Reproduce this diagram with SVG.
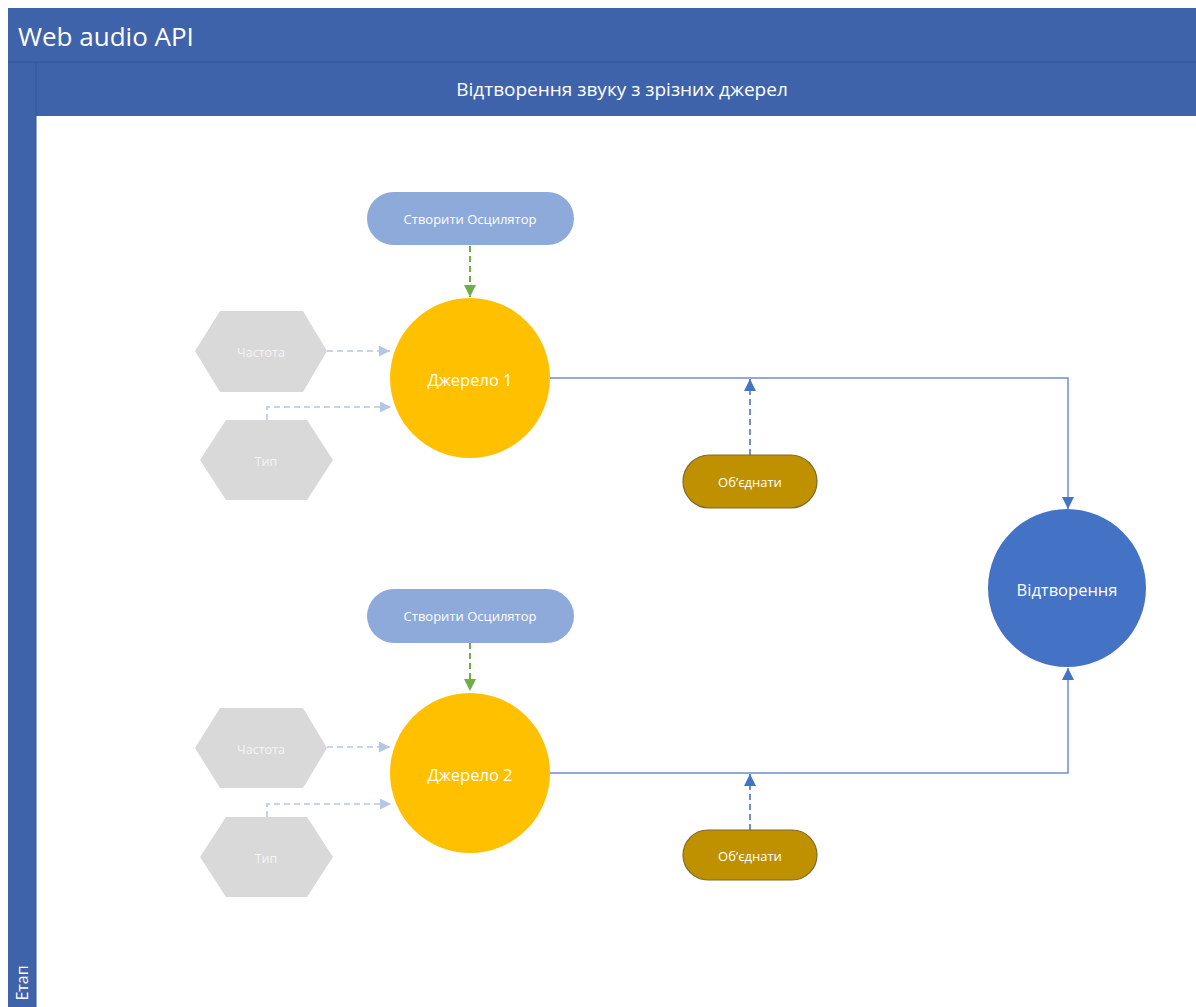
<svg xmlns="http://www.w3.org/2000/svg" width="1196" height="1007" viewBox="0 0 1196 1007">
<style>
text{font-family:"Open Sans","Liberation Sans",sans-serif;fill:#fff;text-anchor:middle;dominant-baseline:central}
.band{fill:#3f63ab}
.osc{fill:#8eaadb}
.src{fill:#ffc000}
.hex{fill:#d9d9d9}
.hexT{fill:#f4f4f4;font-size:12.5px}
.merge{fill:#bf9000;stroke:#7f6a2a;stroke-width:1.2}
.play{fill:#4472c4}
.solid{fill:none;stroke:#6f8fd0;stroke-width:1.5}
.dashB{fill:none;stroke:#6f8fd0;stroke-width:2;stroke-dasharray:6 4}
.dashL{fill:none;stroke:#b4c7e7;stroke-width:1.6;stroke-dasharray:6 4}
.dashG{fill:none;stroke:#70ad47;stroke-width:2;stroke-dasharray:6 4}
.big{font-size:16.5px}
.sm{font-size:13px}
</style>
<defs>
<marker id="aB2" viewBox="0 0 10 10" refX="10" refY="5" markerWidth="12" markerHeight="12" markerUnits="userSpaceOnUse" orient="auto"><path d="M0,0L10,5L0,10z" fill="#4472c4"/></marker>
<marker id="aL" viewBox="0 0 10 10" refX="10" refY="5" markerWidth="11" markerHeight="11" markerUnits="userSpaceOnUse" orient="auto"><path d="M0,0L10,5L0,10z" fill="#b4c7e7"/></marker>
<marker id="aG" viewBox="0 0 10 10" refX="10" refY="5" markerWidth="12" markerHeight="12" markerUnits="userSpaceOnUse" orient="auto"><path d="M0,0L10,5L0,10z" fill="#70ad47"/></marker>
</defs>
<rect width="1196" height="1007" fill="#fff"/>
<g id="pool">
<rect class="band" x="8" y="8" width="1188" height="54"/>
<rect class="band" x="8" y="62" width="28" height="945"/>
<rect class="band" x="36" y="62" width="1160" height="54"/>
<line x1="8" y1="62" x2="1196" y2="62" stroke="#34579a" stroke-width="1.5"/>
<line x1="36" y1="62" x2="36" y2="1007" stroke="#34579a" stroke-width="1"/>
<text x="18" y="36" style="text-anchor:start;font-size:26px">Web audio API</text>
<text x="622" y="89" style="font-size:19px">Відтворення звуку з зрізних джерел</text>
<text transform="translate(22,983) rotate(-90)" style="font-size:16px">Етап</text>
</g>
<g id="connectors">
<path class="dashG" d="M470,246V297" marker-end="url(#aG)"/>
<path class="dashL" d="M327,351H390" marker-end="url(#aL)"/>
<path class="dashL" d="M267,420V407H391" marker-end="url(#aL)"/>
<path class="solid" d="M549,378H1068V509" marker-end="url(#aB2)"/>
<path class="dashB" d="M750,455V379" marker-end="url(#aB2)"/>
<path class="dashG" d="M470,643V691" marker-end="url(#aG)"/>
<path class="dashL" d="M327,747H390" marker-end="url(#aL)"/>
<path class="dashL" d="M267,817V804H391" marker-end="url(#aL)"/>
<path class="solid" d="M549,773H1068V668" marker-end="url(#aB2)"/>
<path class="dashB" d="M750,830V774" marker-end="url(#aB2)"/>
</g>
<g id="osc1"><rect class="osc" x="367" y="192" width="207" height="53" rx="26.5"/><text class="sm" x="470" y="219">Створити Осцилятор</text></g>
<g id="src1"><circle class="src" cx="470" cy="378" r="80"/><text class="big" x="470" y="379">Джерело 1</text></g>
<g id="freq1"><polygon class="hex" points="195,351 220,311 303,311 327,351 303,392 220,392"/><text class="hexT" x="261" y="352">Частота</text></g>
<g id="type1"><polygon class="hex" points="200,460 226,420 307,420 333,460 307,500 226,500"/><text class="hexT" x="266" y="461">Тип</text></g>
<g id="merge1"><rect class="merge" x="683" y="455" width="134" height="53" rx="26.5"/><text class="sm" x="750" y="482">Об’єднати</text></g>
<g id="play"><circle class="play" cx="1067" cy="588" r="79"/><text class="big" x="1067" y="589">Відтворення</text></g>
<g id="osc2"><rect class="osc" x="367" y="589" width="207" height="54" rx="27"/><text class="sm" x="470" y="616">Створити Осцилятор</text></g>
<g id="src2"><circle class="src" cx="470" cy="773" r="80"/><text class="big" x="470" y="774">Джерело 2</text></g>
<g id="freq2"><polygon class="hex" points="195,748 220,708 303,708 327,748 303,788 220,788"/><text class="hexT" x="261" y="749">Частота</text></g>
<g id="type2"><polygon class="hex" points="200,857 226,817 307,817 333,857 307,897 226,897"/><text class="hexT" x="266" y="858">Тип</text></g>
<g id="merge2"><rect class="merge" x="683" y="830" width="134" height="50" rx="25"/><text class="sm" x="750" y="856">Об’єднати</text></g>
</svg>
